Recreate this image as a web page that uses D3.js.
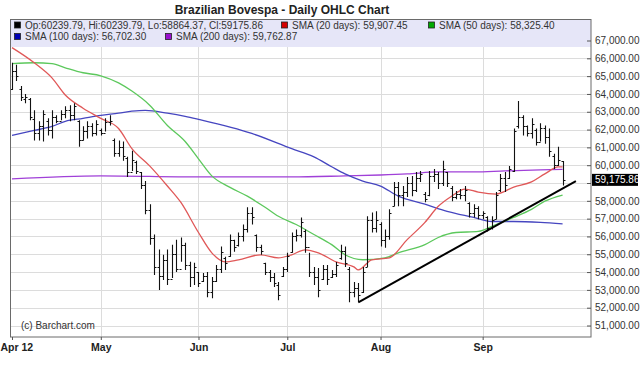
<!DOCTYPE html>
<html>
<head>
<meta charset="utf-8">
<script src="https://cdn.jsdelivr.net/npm/d3@7"></script>
<style>
    body { margin: 0; background: #fff; }
    #chart-area { width: 640px; height: 375px; }
    text { font-family: "Liberation Sans", Arial, sans-serif; }
</style>
</head>
<body>
<div id="chart-area"></div>
<script>

// Daily bars, Apr 2 to Sep 28 (one entry per trading day)
const openVals = [64300, 65300, 64300, 63700, 63700, 62600, 61800, 62200, 62500, 62000,
    62700, 62500, 62900, 63100, 62800, 62500, 61400, 61900, 62200, 61800,
    62000, 61800, 62400, 61400, 60700, 61000, 60400, 59600, 60200, 59600,
    58900, 57500, 55900, 54300, 53800, 54700, 53600, 55000, 54200, 55500,
    54400, 53700, 54000, 53500, 53800, 52900, 53500, 54200, 54800, 54900,
    55800, 55500, 56000, 56400, 57300, 56100, 55400, 54500, 54000, 53700,
    53300, 53800, 54200, 55100, 56000, 56100, 56300, 55400, 54000, 53700,
    53600, 54200, 53700, 53900, 54800, 55200, 54200, 52900, 53100, 52900,
    54300, 56900, 56500, 56700, 55800, 56000, 57700, 58800, 58300, 58500,
    59000, 58600, 59300, 58400, 58300, 59400, 59500, 59000, 59600, 58700,
    58200, 58400, 58300, 57900, 57300, 57600, 57200, 57100, 56500, 57000,
    58600, 59300, 59300, 59700, 62200, 62700, 62200, 61800, 62000, 61300,
    62100, 61600, 60500, 60000, 60239.79];
const highVals = [65750, 65640, 64450, 63990, 63770, 63080, 62460, 63080, 62630, 63080,
    62800, 63080, 63310, 63370, 63480, 62520, 62180, 62460, 62350, 62520,
    62060, 62630, 62800, 61500, 61380, 61330, 60470, 60810, 60250, 59620,
    59110, 57810, 56110, 55260, 54970, 55260, 55540, 55820, 55940, 55650,
    54580, 54520, 54010, 53950, 54010, 53720, 54400, 55430, 54860, 56110,
    55820, 56220, 56670, 57640, 57640, 56110, 55540, 54520, 54120, 53950,
    53440, 54290, 55080, 56220, 56390, 57070, 56390, 55080, 54290, 54230,
    54400, 54400, 54120, 54570, 55540, 55430, 54290, 53440, 53390, 54290,
    57130, 57350, 57410, 56790, 56390, 57520, 59060, 59060, 58830, 59340,
    59400, 59620, 59680, 58490, 59680, 59790, 59620, 60250, 59620, 58830,
    58550, 58660, 58830, 57920, 57810, 57690, 57410, 57130, 57130, 58490,
    59510, 59620, 59960, 62060, 63600, 62800, 62230, 62630, 62060, 62350,
    62230, 62060, 60640, 61040, 60239.79];
const lowVals = [64220, 64730, 63600, 63480, 62520, 61380, 61380, 61330, 61670, 61500,
    62350, 62520, 62630, 62460, 62520, 61040, 61380, 61500, 61610, 61670,
    61670, 61890, 62230, 60470, 60470, 60250, 59340, 59680, 59510, 58660,
    57240, 55540, 53840, 52990, 53550, 53270, 53670, 54010, 54580, 54120,
    53160, 53270, 53160, 53440, 52590, 52530, 53440, 53950, 54120, 54860,
    55140, 55430, 55710, 56220, 56670, 55140, 54970, 53840, 53440, 53160,
    52420, 53720, 54010, 55080, 55710, 55940, 55080, 53720, 53270, 52590,
    53550, 53270, 53670, 53720, 54690, 54290, 52300, 52590, 52300, 52820,
    54290, 56220, 56220, 55430, 55370, 55820, 57690, 57690, 57690, 58210,
    58260, 58490, 59060, 57920, 58260, 59060, 58660, 58830, 58770, 57980,
    58090, 58090, 57980, 57070, 57070, 56960, 56960, 56280, 56390, 56960,
    58490, 58490, 59230, 59620, 62060, 61670, 61610, 61500, 61100, 61330,
    61210, 60470, 59790, 59960, 58864.37];
const closeVals = [65300, 65000, 63800, 63800, 62700, 61800, 62200, 62900, 62000, 62700,
    62500, 62900, 63100, 62800, 63300, 61400, 61900, 62200, 61800, 62300,
    61800, 62400, 62500, 60700, 61000, 60500, 59600, 60300, 59700, 58900,
    57500, 55900, 54300, 53800, 54700, 53600, 55000, 54200, 55500, 54400,
    53700, 54300, 53400, 53800, 52900, 53500, 54200, 55100, 54500, 55800,
    55400, 56000, 56400, 57300, 57100, 55400, 55200, 54000, 53700, 53400,
    52700, 54200, 54900, 56000, 56100, 56800, 55400, 54000, 53700, 53000,
    54200, 53600, 53900, 54400, 55200, 54500, 52900, 53100, 52700, 54000,
    56900, 56500, 56900, 55800, 56000, 57300, 58800, 58300, 58500, 59000,
    58600, 59300, 59500, 58100, 59400, 59500, 59000, 59800, 59000, 58200,
    58400, 58300, 58600, 57300, 57600, 57200, 57300, 56500, 56900, 58300,
    59300, 58900, 59800, 61900, 62700, 62200, 61800, 62300, 61300, 62100,
    61600, 60800, 60000, 60300, 59175.86];

// Moving averages: [trading day, value]
const sma20 = [[0, 66600], [5, 65750], [9, 64900], [12, 63940], [16, 63200], [20, 62630],
    [24, 62060], [27, 60930], [31, 59960], [35, 58830], [38, 57920], [42, 56220],
    [45, 55080], [48, 54570], [51, 54690], [56, 54970], [60, 54800], [63, 54970],
    [66, 55250], [69, 55080], [73, 54570], [77, 54290], [78, 54120], [81, 54690],
    [85, 54800], [89, 55820], [93, 56790], [96, 57690], [99, 58260], [102, 58660],
    [105, 58490], [109, 58380], [113, 58770], [117, 59060], [120, 59510], [123, 59900],
    [124, 59907.45]];
const sma50 = [[0, 65700], [5, 65750], [9, 65700], [12, 65470], [16, 65190], [20, 65020],
    [24, 64620], [27, 64160], [31, 63370], [35, 62230], [39, 61330], [42, 60360],
    [45, 59400], [49, 58770], [53, 58260], [57, 57640], [60, 57130], [64, 56670],
    [68, 56110], [72, 55540], [75, 54970], [79, 54690], [84, 54800], [87, 55080],
    [93, 55540], [96, 55940], [100, 56220], [105, 56280], [109, 56670], [113, 57070],
    [117, 57520], [120, 57980], [124, 58325.40]];
const sma100 = [[0, 61670], [5, 61950], [9, 62180], [12, 62460], [16, 62630], [20, 62800],
    [24, 62920], [27, 63030], [30, 63080], [35, 62920], [39, 62740], [42, 62570],
    [54, 61780], [63, 60930], [68, 60470], [72, 59910], [75, 59510], [79, 59110],
    [83, 58830], [87, 58260], [93, 57810], [98, 57410], [104, 57070], [108, 56840],
    [113, 56840], [119, 56790], [124, 56702.30]];
const sma200 = [[0, 59230], [20, 59400], [42, 59340], [63, 59340], [75, 59400], [83, 59450],
    [89, 59510], [96, 59620], [104, 59620], [111, 59680], [119, 59740], [124, 59762.87]];

// Support line drawn on the chart: [trading day, value]
const trendLine = [[78, 52300], [127, 59110]];

// Month labels and the trading day they start on
const monthLabels = ["Apr 12", "May", "Jun", "Jul", "Aug", "Sep"];
const monthStarts = [0, 20, 42, 62, 83, 106];

const yTicks = d3.range(51000, 67001, 1000);

const legendItems = [
    { label: "Op:60239.79, Hi:60239.79, Lo:58864.37, Cl:59175.86", color: "#000000", row: 0, x: 4 },
    { label: "SMA (20 days): 59,907.45", color: "#d40000", row: 0, x: 271 },
    { label: "SMA (50 days): 58,325.40", color: "#00a800", row: 0, x: 418 },
    { label: "SMA (100 days): 56,702.30", color: "#0000b4", row: 1, x: 4 },
    { label: "SMA (200 days): 59,762.87", color: "#9a10d0", row: 1, x: 155 }
];


class OhlcChart {

    constructor(parentElement) {
        this.parentElement = parentElement;
        this.displayData = [];

        this.initVis();
    }

    initVis() {
        let vis = this;

        vis.margin = { top: 19, right: 49, bottom: 38, left: 10 };
        vis.width = 640 - vis.margin.left - vis.margin.right;
        vis.height = 375 - vis.margin.top - vis.margin.bottom;

        vis.root = d3.select(`#${vis.parentElement}`).append("svg")
            .attr("width", 640)
            .attr("height", 375);

        vis.root.append("text")
            .attr("x", 282)
            .attr("y", 14)
            .attr("text-anchor", "middle")
            .attr("font-size", 12)
            .attr("font-weight", "bold")
            .attr("fill", "#222")
            .text("Brazilian Bovespa - Daily OHLC Chart");

        vis.svg = vis.root.append("g")
            .attr("transform", "translate(" + vis.margin.left + "," + vis.margin.top + ")");

        vis.svg.append("clipPath")
            .attr("id", "plot-clip")
            .append("rect")
            .attr("width", vis.width)
            .attr("height", vis.height);

        // Scales (x = trading day index)
        vis.x = d3.scaleLinear()
            .domain([-0.45, 130.4])
            .range([0, vis.width]);

        vis.y = d3.scaleLinear()
            .domain([51000, 67000])
            .range([306.5, 21.5]);

        vis.wrangleData();
    }

    wrangleData() {
        let vis = this;

        vis.displayData = highVals.map((h, i) => ({
            i: i,
            open: openVals[i],
            high: h,
            low: lowVals[i],
            close: closeVals[i]
        }));

        vis.updateVis();
    }

    updateVis() {
        let vis = this;

        // grid
        vis.svg.append("g")
            .attr("class", "grid")
            .selectAll("line.h")
            .data(yTicks)
            .join("line")
            .attr("x1", 0)
            .attr("x2", vis.width)
            .attr("y1", d => Math.round(vis.y(d)) + 0.5)
            .attr("y2", d => Math.round(vis.y(d)) + 0.5)
            .attr("stroke", "#dcdcdc");

        vis.svg.append("g")
            .selectAll("line")
            .data(monthStarts.slice(1))
            .join("line")
            .attr("x1", d => Math.round(vis.x(d)) + 0.5)
            .attr("x2", d => Math.round(vis.x(d)) + 0.5)
            .attr("y1", 0)
            .attr("y2", vis.height)
            .attr("stroke", "#dcdcdc");

        let plot = vis.svg.append("g").attr("clip-path", "url(#plot-clip)");

        // moving averages
        vis.line = d3.line()
            .curve(d3.curveMonotoneX)
            .x(d => vis.x(d[0]))
            .y(d => vis.y(d[1]));

        const smaSeries = [
            { data: sma200, color: "#a040d8" },
            { data: sma100, color: "#4646c0" },
            { data: sma50, color: "#5cc85c" },
            { data: sma20, color: "#e05858" }
        ];

        plot.append("g")
            .attr("fill", "none")
            .attr("stroke-width", 1.3)
            .selectAll("path")
            .data(smaSeries)
            .join("path")
            .attr("stroke", d => d.color)
            .attr("d", d => vis.line(d.data));

        // OHLC bars
        plot.append("g")
            .attr("stroke", "#111")
            .attr("stroke-width", 1.1)
            .attr("fill", "none")
            .selectAll("path")
            .data(vis.displayData)
            .join("path")
            .attr("d", d => {
                let x = Math.round(vis.x(d.i)) + 0.5;
                let yo = Math.round(vis.y(d.open)) + 0.5;
                let yc = Math.round(vis.y(d.close)) + 0.5;
                return "M" + x + "," + vis.y(d.high) + "V" + vis.y(d.low)
                    + "M" + (x - 2) + "," + yo + "H" + x
                    + "M" + x + "," + yc + "H" + (x + 2);
            });

        // trend line
        plot.append("path")
            .attr("fill", "none")
            .attr("stroke", "#000")
            .attr("stroke-width", 2)
            .attr("d", d3.line().x(d => vis.x(d[0])).y(d => vis.y(d[1]))(trendLine));

        // legend box
        let legend = vis.svg.append("g");
        legend.append("rect")
            .attr("x", 0)
            .attr("y", 0)
            .attr("width", vis.width)
            .attr("height", 28)
            .attr("fill", "#e6e6f8");

        let item = legend.selectAll("g.item")
            .data(legendItems)
            .join("g")
            .attr("transform", d => "translate(" + d.x + "," + (d.row === 0 ? 2.5 : 14) + ")");

        item.append("rect")
            .attr("width", 6)
            .attr("height", 6)
            .attr("x", 0.5)
            .attr("y", 0.5)
            .attr("fill", d => d.color)
            .attr("stroke", "#222")
            .attr("stroke-width", 0.8);

        item.append("text")
            .attr("x", 11)
            .attr("y", 7)
            .attr("font-size", 10)
            .attr("fill", "#333")
            .text(d => d.label);

        // frame
        vis.svg.append("rect")
            .attr("x", 0.5)
            .attr("y", 0.5)
            .attr("width", vis.width - 0.5)
            .attr("height", vis.height - 0.5)
            .attr("fill", "none")
            .attr("stroke", "#6a6a6a");

        // y axis on the right; the label under the last-price marker is left out
        let last = closeVals[closeVals.length - 1];
        let lastY = vis.y(last);

        vis.yAxis = d3.axisRight(vis.y)
            .tickValues(yTicks)
            .tickSizeInner(-4)
            .tickSizeOuter(0)
            .tickPadding(4)
            .tickFormat(d => Math.abs(vis.y(d) - lastY) < 9 ? "" : d3.format(",.2f")(d));

        let yg = vis.svg.append("g")
            .attr("class", "y-axis axis")
            .attr("transform", "translate(" + vis.width + ",0)")
            .call(vis.yAxis);
        yg.select(".domain").remove();
        yg.selectAll("line").attr("stroke", "#555");
        yg.selectAll("text")
            .attr("font-size", 10)
            .attr("fill", "#333")
            .style("font-family", "'Liberation Sans', Arial, sans-serif");

        // last price marker
        vis.svg.append("rect")
            .attr("x", vis.width + 1)
            .attr("y", lastY - 6)
            .attr("width", 46)
            .attr("height", 12)
            .attr("fill", "#000");
        vis.svg.append("text")
            .attr("x", vis.width + 4)
            .attr("y", lastY + 3.5)
            .attr("font-size", 10)
            .attr("fill", "#fff")
            .text(d3.format(",.2f")(last));

        // x axis
        vis.xAxis = d3.axisBottom(vis.x)
            .tickValues(monthStarts)
            .tickSizeInner(3)
            .tickSizeOuter(0)
            .tickPadding(4)
            .tickFormat((d, i) => monthLabels[i]);

        let xg = vis.svg.append("g")
            .attr("class", "x-axis axis")
            .attr("transform", "translate(0," + vis.height + ")")
            .call(vis.xAxis);
        xg.select(".domain").remove();
        xg.selectAll("line").attr("stroke", "#555");
        xg.selectAll("text")
            .attr("font-size", 10.5)
            .attr("font-weight", "bold")
            .attr("fill", "#222")
            .style("font-family", "'Liberation Sans Narrow', 'Arial Narrow', 'Liberation Sans', sans-serif");

        // first label sits against the left edge of the page
        xg.selectAll(".tick")
            .filter(d => d === monthStarts[0])
            .select("text")
            .attr("text-anchor", "start")
            .attr("x", -vis.margin.left - vis.x(monthStarts[0]));

        vis.svg.append("text")
            .attr("x", 11)
            .attr("y", 310)
            .attr("font-size", 10)
            .attr("fill", "#333")
            .text("(c) Barchart.com");
    }
}

let chart = new OhlcChart("chart-area");

</script>
</body>
</html>
